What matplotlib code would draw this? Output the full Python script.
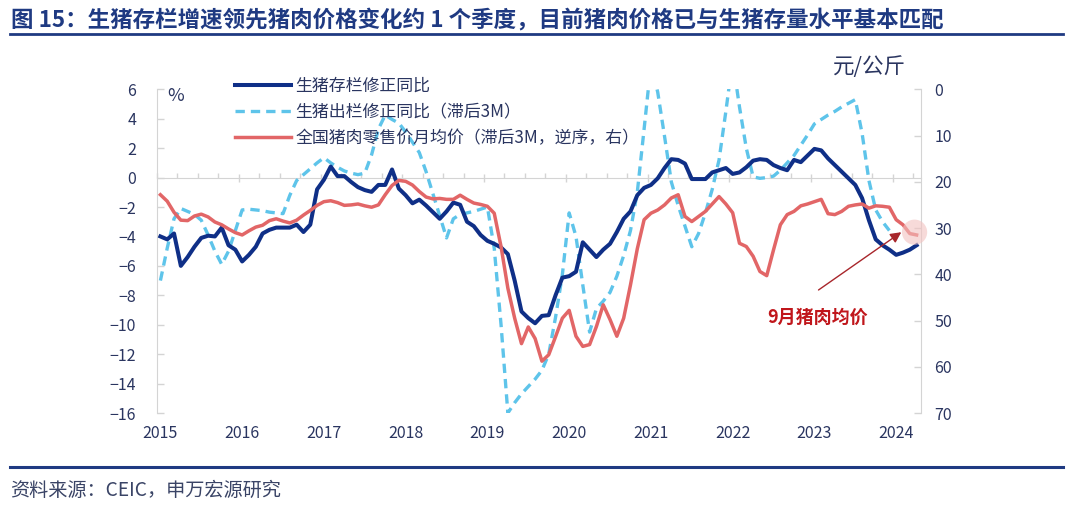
import matplotlib
matplotlib.use("Agg")
import matplotlib.pyplot as plt
from matplotlib.ticker import MultipleLocator, FixedLocator
import numpy as np

plt.rcParams['font.family'] = ['Noto Sans CJK SC', 'DejaVu Sans']

# ---------------- data ----------------
year_labels = ['2015', '2016', '2017', '2018', '2019', '2020', '2021', '2022', '2023', '2024']

# 生猪存栏修正同比 (%), monthly from 2015-01
stock_yoy = [-4.0, -4.2, -3.8, -6.0, -5.4, -4.7, -4.1, -3.95, -4.0, -3.4, -4.6, -4.9,
             -5.7, -5.25, -4.7, -3.8, -3.55, -3.4, -3.4, -3.4, -3.2, -3.7, -3.2, -0.8,
             -0.15, 0.75, 0.1, 0.1, -0.3, -0.65, -0.85, -0.97, -0.5, -0.5, 0.55, -0.75,
             -1.2, -1.75, -1.5, -1.9, -2.35, -2.8, -2.3, -1.7, -1.85, -3.0, -3.3, -3.9,
             -4.3, -4.5, -4.75, -5.2, -7.0, -9.1, -9.55, -9.9, -9.4, -9.35, -8.0, -6.8,
             -6.7, -6.4, -4.4, -4.9, -5.4, -4.9, -4.5, -3.7, -2.8, -2.3, -1.2, -0.7,
             -0.5, -0.05, 0.65, 1.25, 1.2, 0.95, -0.1, -0.1, -0.1, 0.35, 0.5, 0.65,
             0.25, 0.35, 0.7, 1.15, 1.25, 1.2, 0.85, 0.65, 0.5, 1.2, 1.05, 1.5,
             1.95, 1.85, 1.3, 0.85, 0.4, -0.05, -0.5, -1.4, -2.9, -4.2, -4.6, -4.9,
             -5.25, -5.1, -4.9, -4.6]

# 生猪出栏修正同比（滞后3M）(%)
slaughter_yoy = [-7.0, -4.8, -2.8, -2.1, -2.3, -2.5, -2.9, -3.9, -5.0, -5.9, -5.0, -3.6,
                 -2.2, -2.15, -2.2, -2.25, -2.35, -2.4, -2.45, -1.2, -0.2, 0.2, 0.6, 1.0,
                 1.35, 1.0, 0.7, 0.45, 0.3, 0.2, 0.3, 1.55, 3.3, 4.25, 3.95, 3.7,
                 3.1, 2.4, 1.7, 0.4, -1.1, -2.6, -4.1, -2.8, -2.5, -2.4, -2.3, -2.15,
                 -2.0, -4.8, -10.0, -16.0, -15.3, -14.7, -14.2, -13.7, -13.1, -12.0, -9.5, -6.6,
                 -2.4, -4.0, -7.3, -10.5, -8.9, -8.4, -7.8, -6.7, -5.3, -3.6, -1.0, 3.3,
                 7.7, 5.8, 2.8, -0.3, -1.9, -3.3, -4.7, -3.8, -2.4, -0.8, 1.2, 4.5,
                 8.0, 4.8, 2.0, 0.05, -0.05, 0.0, 0.1, 0.5, 1.0, 1.5, 2.2, 2.9,
                 3.65, 3.95, 4.25, 4.5, 4.8, 5.05, 5.3, 3.0, -0.2, -2.2, -3.0, -3.6]

# 全国猪肉零售价月均价（滞后3M，逆序，右）(元/公斤)
pork_price = [22.8, 24.2, 26.6, 28.3, 28.4, 27.4, 27.0, 27.6, 28.7, 29.3, 30.2, 31.0,
              31.5, 30.6, 29.8, 29.4, 28.4, 28.0, 28.5, 28.9, 28.3, 27.2, 26.2, 25.1,
              24.3, 24.1, 24.5, 25.1, 25.0, 24.8, 25.2, 25.5, 25.0, 22.8, 20.8, 19.7,
              19.9, 20.7, 22.1, 23.3, 23.7, 23.6, 23.8, 23.8, 22.9, 23.8, 24.6, 24.9,
              25.3, 26.8, 34.0, 43.0, 49.5, 55.0, 51.4, 53.9, 58.8, 57.4, 53.5, 49.5,
              47.8, 53.4, 55.6, 55.2, 51.3, 46.6, 49.8, 53.4, 49.5, 42.3, 34.5, 28.2,
              26.8, 26.1, 25.0, 23.5, 22.8, 27.5, 28.6, 27.5, 26.4, 24.8, 23.2, 24.8,
              26.7, 33.3, 34.0, 36.1, 39.4, 40.3, 34.7, 29.3, 27.1, 26.4, 25.2, 24.8,
              24.3, 23.8, 26.9, 27.1, 26.4, 25.3, 25.0, 24.8, 25.7, 25.2, 25.3, 25.5,
              28.2, 29.3, 31.2, 31.5]

legend_labels = ['生猪存栏修正同比', '生猪出栏修正同比（滞后3M）', '全国猪肉零售价月均价（滞后3M，逆序，右）']
title_text = '图 15：生猪存栏增速领先猪肉价格变化约 1 个季度，目前猪肉价格已与生猪存量水平基本匹配'
source_text = '资料来源：CEIC，申万宏源研究'
annot_text = '9月猪肉均价'

# ---------------- styling ----------------
C_NAVY = '#0f2f87'
C_SKY = '#5ec4ea'
C_RED = '#e26667'
C_TITLE = '#1f3a82'
C_TICK = '#2a3560'
C_GRID = '#d4d4d4'

W, H = 1080, 513
fig = plt.figure(figsize=(W / 100, H / 100), dpi=100)
fig.patch.set_facecolor('white')

def fx(px):
    return px / W

def fy(py):
    return 1 - py / H

ax = fig.add_axes([fx(157), fy(413), fx(920.7) - fx(157), fy(89.3) - fy(413)])
ax2 = ax.twinx()

m_stock = np.arange(len(stock_yoy))
m_sl = np.arange(len(slaughter_yoy))
m_pr = np.arange(len(pork_price))

l1, = ax.plot(m_stock, stock_yoy, color=C_NAVY, lw=2.9, solid_joinstyle='round', zorder=4)
l2, = ax.plot(m_sl, slaughter_yoy, color=C_SKY, lw=2.4, dashes=(2.8, 1.8),
              dash_capstyle='butt', zorder=3)
l3, = ax2.plot(m_pr, pork_price, color=C_RED, lw=2.5, solid_joinstyle='round', zorder=5)

ax.set_xlim(-0.5, 111.6)
ax.set_ylim(-16, 6)
ax2.set_ylim(70, 0)

# left axis
ax.yaxis.set_major_locator(MultipleLocator(2))
ax.tick_params(axis='y', direction='in', length=5, width=1, color=C_GRID,
               labelsize=11.5, labelcolor=C_TICK, pad=15)
ax2.yaxis.set_major_locator(MultipleLocator(10))
ax2.tick_params(axis='y', direction='in', length=5, width=1, color=C_GRID,
                labelsize=11.5, labelcolor=C_TICK, pad=10)

for a in (ax, ax2):
    a.spines['top'].set_visible(False)
ax.spines['right'].set_visible(False)
ax2.spines['bottom'].set_visible(False)
ax2.spines['left'].set_visible(False)
ax.spines['left'].set_color(C_GRID)
ax2.spines['right'].set_color(C_GRID)
ax.spines['bottom'].set_position(('data', 0))
ax.spines['bottom'].set_color(C_GRID)

# ticks on the zero line
n_months = len(stock_yoy)
quarter_edges = np.arange(-0.5, n_months, 3)
year_edges = np.arange(11.5, n_months, 12)
ax.xaxis.set_major_locator(FixedLocator(year_edges))
ax.xaxis.set_minor_locator(FixedLocator(quarter_edges))
ax.tick_params(axis='x', which='major', direction='inout', length=6, width=1,
               color=C_GRID, labelbottom=False)
ax.tick_params(axis='x', which='minor', direction='in', length=3.5, width=1,
               color=C_GRID, labelbottom=False)

# year labels at bottom
sec = ax.secondary_xaxis('bottom')
sec.spines['bottom'].set_visible(False)
sec.set_xticks(np.arange(len(year_labels)) * 12, year_labels)
sec.tick_params(axis='x', length=0, labelsize=11.5, labelcolor=C_TICK, pad=8.8)

# unit labels
fig.text(fx(176), fy(96), '%', fontsize=13, color=C_TICK, ha='center', va='center')
fig.text(fx(869), fy(67), '元/公斤', fontsize=15.5, color=C_TICK, ha='center', va='center')

# legend
leg = fig.legend([l1, l2, l3], legend_labels, loc='upper left',
                 bbox_to_anchor=(fx(235), fy(77)), bbox_transform=fig.transFigure,
                 frameon=False, fontsize=12.2, handlelength=3.3, handletextpad=0.25,
                 labelspacing=0.47, borderpad=0, borderaxespad=0)
for t in leg.get_texts():
    t.set_color(C_TICK)

# highlight circle at latest price
ax2.scatter([m_pr[-1] - 0.3], [pork_price[-1] - 0.6], s=330, color='#f3c2c0', alpha=0.6,
            edgecolors='none', zorder=6, clip_on=False)

# annotation
arrow_tip = (108.75, 30.9)
arrow_tail = (96.6, 43.4)
ax2.annotate('', xy=arrow_tip, xytext=arrow_tail,
             arrowprops=dict(arrowstyle='-|>', color='#a8262b', lw=1.0, mutation_scale=16,
                             shrinkA=0, shrinkB=0), zorder=7)
ax2.text(96.4, 49.3, annot_text, fontsize=13, fontweight='bold', color='#c0161b',
         ha='center', va='center', zorder=7)

# title & frame lines
fig.text(fx(11), fy(20), title_text, fontsize=16.2, fontweight='bold', color=C_TITLE,
         ha='left', va='center')
fig.add_artist(plt.Line2D([fx(10), fx(1063)], [fy(34), fy(34)], color=C_TITLE, lw=2.0))
fig.add_artist(plt.Line2D([fx(10), fx(1063)], [fy(467), fy(467)], color=C_TITLE, lw=2.2))
fig.text(fx(10), fy(490), source_text, fontsize=13.8, color='#3a4466', ha='left', va='center')

fig.savefig('out.png', dpi=100, facecolor='white')
